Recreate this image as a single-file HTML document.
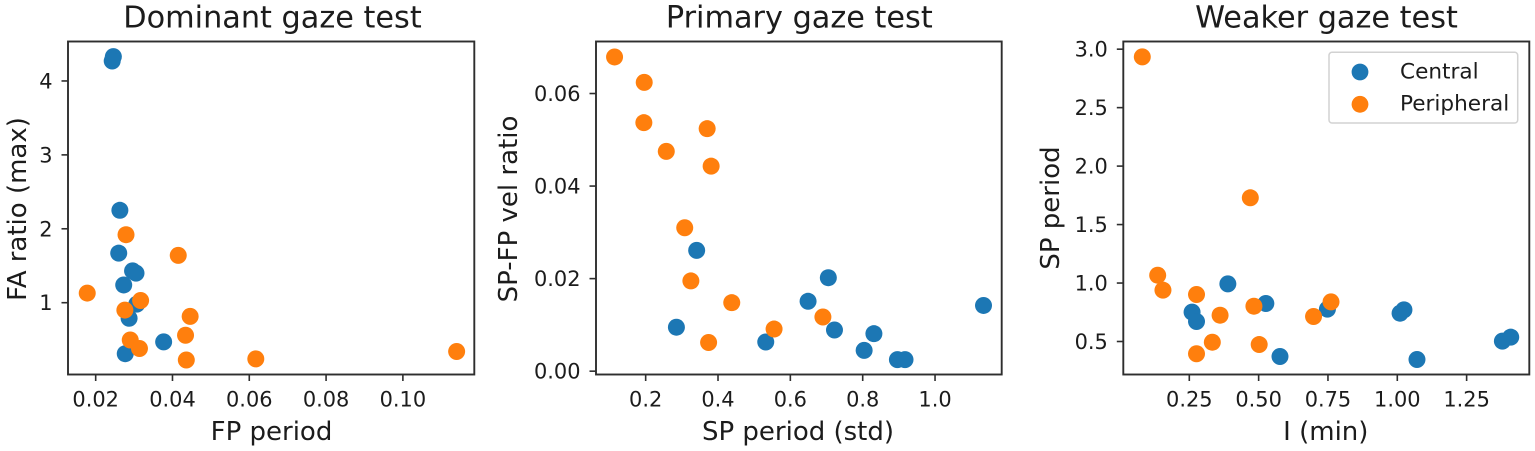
<!DOCTYPE html>
<html lang="en">
<head>
<meta charset="utf-8">
<title>Gaze test scatter plots</title>
<style>
html,body{margin:0;padding:0;background:#fff;width:1535px;height:451px;overflow:hidden}
svg{display:block}
text{font-family:"DejaVu Sans","Liberation Sans",sans-serif;fill:#1a1a1a}
.title{font-size:30.3px;text-anchor:middle}
.label{font-size:26px;text-anchor:middle}
.tick{font-size:20.9px}
.legend-text{font-size:21.6px}
.frame{fill:none;stroke:#2e2e2e;stroke-width:1.9}
</style>
</head>
<body>
<svg id="figure" width="1535" height="451" viewBox="0 0 1535 451" xmlns="http://www.w3.org/2000/svg">
  <defs><filter id="soft" x="-2%" y="-2%" width="104%" height="104%"><feGaussianBlur stdDeviation="0.35"/></filter></defs>
  <g filter="url(#soft)">
  <g id="panel-1">
    <text class="title" x="272.5" y="27.5">Dominant gaze test</text>
    <text class="label" x="271.5" y="440">FP period</text>
    <text class="label" transform="translate(26 209) rotate(-90)">FA ratio (max)</text>
  </g>
  <g id="panel-2">
    <text class="title" x="799.3" y="27.5">Primary gaze test</text>
    <text class="label" x="798" y="440">SP period (std)</text>
    <text class="label" transform="translate(517 209) rotate(-90)">SP-FP vel ratio</text>
  </g>
  <g id="panel-3">
    <text class="title" x="1326.5" y="27.5">Weaker gaze test</text>
    <text class="label" x="1325.8" y="440">I (min)</text>
    <text class="label" transform="translate(1059 208) rotate(-90)">SP period</text>
  </g>
  <g id="legend">
    <rect x="1329" y="52.3" width="188.7" height="70.7" rx="3" fill="#fff" stroke="#d2d2d2" stroke-width="1.5"/>
    <circle cx="1360" cy="72" r="8.4" fill="#1f77b4"/>
    <text class="legend-text" x="1400" y="78.5">Central</text>
    <circle cx="1360" cy="104.3" r="8.4" fill="#ff7f0e"/>
    <text class="legend-text" x="1400" y="110.5">Peripheral</text>
  </g>
  </g>
</svg>
<script>
// Dominant gaze test
const dominantCentralX = [0.0246,0.0243,0.0263,0.0260,0.0296,0.0305,0.0273,0.0307,0.0287,0.0277,0.0377];
const dominantCentralY = [4.33,4.27,2.25,1.67,1.43,1.40,1.24,0.98,0.79,0.31,0.47];
const dominantPeripheralX = [0.0178,0.0279,0.0415,0.0276,0.0317,0.0446,0.0434,0.0290,0.0314,0.0436,0.0617,0.1140];
const dominantPeripheralY = [1.13,1.92,1.64,0.90,1.03,0.815,0.56,0.495,0.38,0.225,0.24,0.34];
const dominantXTicks = ["0.02","0.04","0.06","0.08","0.10"];
const dominantYTicks = ["1","2","3","4"];

// Primary gaze test
const primaryCentralX = [0.341,0.285,0.705,0.649,0.722,0.831,0.532,0.804,0.896,0.917,1.134];
const primaryCentralY = [0.0261,0.0095,0.0202,0.0151,0.0089,0.0081,0.0063,0.0045,0.0025,0.0025,0.0142];
const primaryPeripheralX = [0.114,0.196,0.195,0.370,0.257,0.381,0.308,0.325,0.438,0.690,0.555,0.374];
const primaryPeripheralY = [0.0679,0.0624,0.0537,0.0524,0.0475,0.0443,0.0310,0.0195,0.0148,0.0117,0.0091,0.0062];
const primaryXTicks = ["0.2","0.4","0.6","0.8","1.0"];
const primaryYTicks = ["0.00","0.02","0.04","0.06"];

// Weaker gaze test
const weakerCentralX = [0.389,0.526,0.260,0.276,0.748,1.024,1.010,0.577,1.071,1.379,1.409];
const weakerCentralY = [0.993,0.825,0.751,0.671,0.777,0.771,0.742,0.372,0.346,0.503,0.537];
const weakerPeripheralX = [0.0805,0.470,0.136,0.155,0.276,0.483,0.361,0.761,0.698,0.333,0.502,0.276];
const weakerPeripheralY = [2.934,1.729,1.067,0.939,0.902,0.802,0.725,0.839,0.714,0.494,0.474,0.395];
const weakerXTicks = ["0.25","0.50","0.75","1.00","1.25"];
const weakerYTicks = ["0.5","1.0","1.5","2.0","2.5","3.0"];

const NS = 'http://www.w3.org/2000/svg';
const BLUE = '#1f77b4';
const ORANGE = '#ff7f0e';
const TOP = 41.5;
const BOTTOM = 374.5;

function make(tag, attrs, parent) {
  const el = document.createElementNS(NS, tag);
  for (const k in attrs) el.setAttribute(k, attrs[k]);
  parent.appendChild(el);
  return el;
}

function drawPanel(p) {
  const g = document.getElementById(p.id);
  const sx = v => p.left + (v - p.xMin) / (p.xMax - p.xMin) * (p.right - p.left);
  const sy = v => BOTTOM - (v - p.yMin) / (p.yMax - p.yMin) * (BOTTOM - TOP);

  const frame = make('rect', {class: 'frame', x: p.left, y: TOP, width: p.right - p.left, height: BOTTOM - TOP}, g);
  
  

  p.xTicks.forEach(label => {
    const x = sx(parseFloat(label));
    const mark = make('line', {x1: x, x2: x, y1: BOTTOM, y2: BOTTOM + 6.5, stroke: '#2e2e2e', 'stroke-width': 1.6}, g);
    
    
    const t = make('text', {class: 'tick', x: x, y: 406.5, 'text-anchor': 'middle'}, g);
    t.textContent = label;
    
    
  });

  p.yTicks.forEach(label => {
    const y = sy(parseFloat(label));
    const mark = make('line', {x1: p.left - 6.5, x2: p.left, y1: y, y2: y, stroke: '#2e2e2e', 'stroke-width': 1.6}, g);
    
    
    const t = make('text', {class: 'tick', x: p.left - 15.5, y: y + 7.5, 'text-anchor': 'end'}, g);
    t.textContent = label;
    
    
  });

  p.centralX.forEach((v, i) => {
    const c = make('circle', {cx: sx(v), cy: sy(p.centralY[i]), r: 8.5, fill: BLUE}, g);
    
    
  });
  p.peripheralX.forEach((v, i) => {
    const c = make('circle', {cx: sx(v), cy: sy(p.peripheralY[i]), r: 8.5, fill: ORANGE}, g);
    
    
  });
}

drawPanel({id: 'panel-1', prefix: 'dominant', left: 68, right: 474.3,
  xMin: 0.01279, xMax: 0.1186, yMin: 0.0284, yMax: 4.534,
  xTicks: dominantXTicks, yTicks: dominantYTicks,
  centralX: dominantCentralX, centralY: dominantCentralY,
  peripheralX: dominantPeripheralX, peripheralY: dominantPeripheralY});

drawPanel({id: 'panel-2', prefix: 'primary', left: 596, right: 1001.7,
  xMin: 0.0627, xMax: 1.1843, yMin: -0.00072, yMax: 0.07124,
  xTicks: primaryXTicks, yTicks: primaryYTicks,
  centralX: primaryCentralX, centralY: primaryCentralY,
  peripheralX: primaryPeripheralX, peripheralY: primaryPeripheralY});

drawPanel({id: 'panel-3', prefix: 'weaker', left: 1123.3, right: 1529.3,
  xMin: 0.012, xMax: 1.476, yMin: 0.2178, yMax: 3.0656,
  xTicks: weakerXTicks, yTicks: weakerYTicks,
  centralX: weakerCentralX, centralY: weakerCentralY,
  peripheralX: weakerPeripheralX, peripheralY: weakerPeripheralY});

// Keep the legend above the third panel's marks and frame.
const legendGroup = document.getElementById('legend');
legendGroup.parentNode.appendChild(legendGroup);
</script>
</body>
</html>
